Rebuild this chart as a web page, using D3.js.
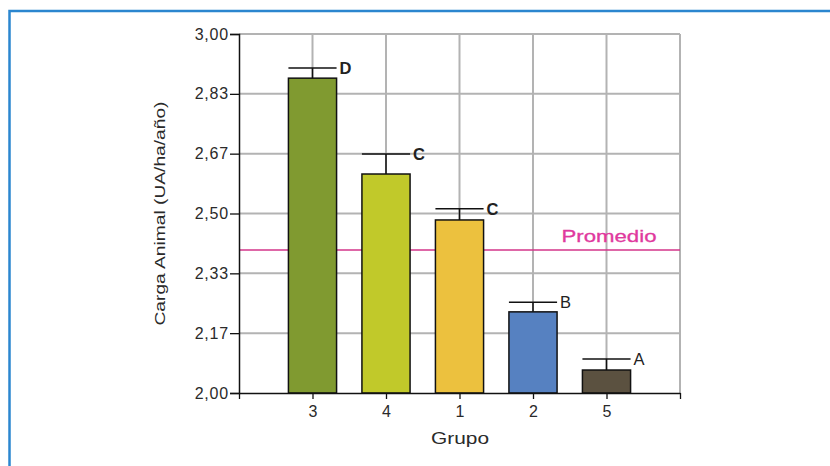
<!DOCTYPE html>
<html>
<head>
<meta charset="utf-8">
<script src="https://cdn.jsdelivr.net/npm/d3@7"></script>
<style>
  body { margin: 0; background: #fff; }
  text { font-family: "Liberation Sans", Arial, sans-serif; }
</style>
</head>
<body>
<svg id="chart" width="830" height="466"></svg>
<script>
// data
var grupos = ["3", "4", "1", "2", "5"];
var medias = [2.877, 2.61, 2.482, 2.226, 2.064];
var errores = [0.028, 0.056, 0.031, 0.027, 0.031];
var letras = ["D", "C", "C", "B", "A"];
var colores = ["#809a30", "#c1c92a", "#ecc13e", "#5681c1", "#5b5140"];
var yTicks = [2.00, 2.1667, 2.3333, 2.50, 2.6667, 2.8333, 3.00];
var promedio = 2.398;

var svg = d3.select("#chart");
var margin = {left: 239, top: 34, right: 150, bottom: 73};
var width = 830 - margin.left - margin.right;
var height = 466 - margin.top - margin.bottom;

// blue frame
svg.append("path")
    .attr("d", "M9.5,470 L9.5,11 L835,11")
    .attr("fill", "none")
    .attr("stroke", "#2b86cf")
    .attr("stroke-width", 2.5);

var g = svg.append("g")
    .attr("transform", "translate(" + margin.left + "," + margin.top + ")");

var y = d3.scaleLinear().domain([2, 3]).range([height, 0]);
// 6 slots; categories sit on slots 1..5, last slot is empty
var x = d3.scaleLinear().domain([0, 6]).range([0, width]);
var bw = x(1) * 0.655;

// grid
g.append("g").selectAll("line")
  .data(yTicks.slice(1))
  .join("line")
    .attr("x1", 0).attr("x2", width)
    .attr("y1", d => y(d)).attr("y2", d => y(d))
    .attr("stroke", "#b3b3b3").attr("stroke-width", 2);

g.append("g").selectAll("line")
  .data(d3.range(1, 7))
  .join("line")
    .attr("x1", d => x(d)).attr("x2", d => x(d))
    .attr("y1", 0).attr("y2", height)
    .attr("stroke", "#b3b3b3").attr("stroke-width", 2);

// promedio
g.append("line")
    .attr("x1", 0).attr("x2", width)
    .attr("y1", y(promedio)).attr("y2", y(promedio))
    .attr("stroke", "#d3348a").attr("stroke-width", 1.5);

g.append("text")
    .attr("x", 370).attr("y", y(promedio) - 8)
    .attr("text-anchor", "middle")
    .attr("fill", "#e0399e")
    .attr("stroke", "#e0399e")
    .attr("stroke-width", 0.3)
    .style("font-size", "17px")
    .attr("textLength", 95)
    .attr("lengthAdjust", "spacingAndGlyphs")
    .text("Promedio");

// error bars
var eb = g.append("g").selectAll("g")
  .data(grupos)
  .join("g");

eb.append("line")
    .attr("x1", (d, i) => x(i + 1)).attr("x2", (d, i) => x(i + 1))
    .attr("y1", (d, i) => y(medias[i])).attr("y2", (d, i) => y(medias[i] + errores[i]))
    .attr("stroke", "#111").attr("stroke-width", 1.5);

eb.append("line")
    .attr("x1", (d, i) => x(i + 1) - bw / 2).attr("x2", (d, i) => x(i + 1) + bw / 2)
    .attr("y1", (d, i) => y(medias[i] + errores[i])).attr("y2", (d, i) => y(medias[i] + errores[i]))
    .attr("stroke", "#111").attr("stroke-width", 1.5);

eb.append("text")
    .attr("x", (d, i) => x(i + 1) + bw / 2 + 3)
    .attr("y", (d, i) => y(medias[i] + errores[i]) + 6)
    .attr("fill", "#222")
    .style("font-size", "16.5px")
    .style("font-weight", (d, i) => i < 3 ? "bold" : "normal")
    .text((d, i) => letras[i]);

// bars
g.append("g").selectAll("rect")
  .data(grupos)
  .join("rect")
    .attr("x", (d, i) => x(i + 1) - bw / 2)
    .attr("width", bw)
    .attr("y", (d, i) => y(medias[i]))
    .attr("height", (d, i) => height - y(medias[i]))
    .attr("fill", (d, i) => colores[i])
    .attr("stroke", "#111")
    .attr("stroke-width", 1.5);

// y axis
var yAxis = g.append("g")
    .call(d3.axisLeft(y).tickValues(yTicks).tickSize(9).tickPadding(1)
      .tickFormat(d => d3.format(".2f")(d).replace(".", ",")));
yAxis.select(".domain").attr("stroke", "#111").attr("stroke-width", 1.5);
yAxis.selectAll(".tick line").attr("stroke", "#111").attr("stroke-width", 1.3);
yAxis.selectAll("text").attr("fill", "#2a2a2a")
    .style("font-size", "16px").style("letter-spacing", "0.8px");

// x axis
var xAxis = g.append("g")
    .attr("transform", "translate(0," + height + ")")
    .call(d3.axisBottom(x).tickValues(d3.range(0, 7)).tickSize(6).tickSizeOuter(0).tickPadding(7)
      .tickFormat(d => (d >= 1 && d <= 5) ? grupos[d - 1] : ""));
xAxis.select(".domain").attr("stroke", "#111").attr("stroke-width", 1.5);
xAxis.selectAll(".tick line").attr("stroke", "#111").attr("stroke-width", 1.3);
xAxis.selectAll("text").attr("fill", "#2a2a2a").style("font-size", "16px");

// axis titles
g.append("text")
    .attr("x", 221).attr("y", height + 51)
    .attr("text-anchor", "middle")
    .attr("fill", "#2a2a2a")
    .style("font-size", "16.5px")
    .attr("textLength", 58)
    .attr("lengthAdjust", "spacingAndGlyphs")
    .text("Grupo");

g.append("text")
    .attr("transform", "translate(-74," + y(2.5) + ") rotate(-90)")
    .attr("text-anchor", "middle")
    .attr("fill", "#2a2a2a")
    .style("font-size", "15px")
    .attr("textLength", 224)
    .attr("lengthAdjust", "spacingAndGlyphs")
    .text("Carga Animal (UA/ha/año)");
</script>
</body>
</html>
